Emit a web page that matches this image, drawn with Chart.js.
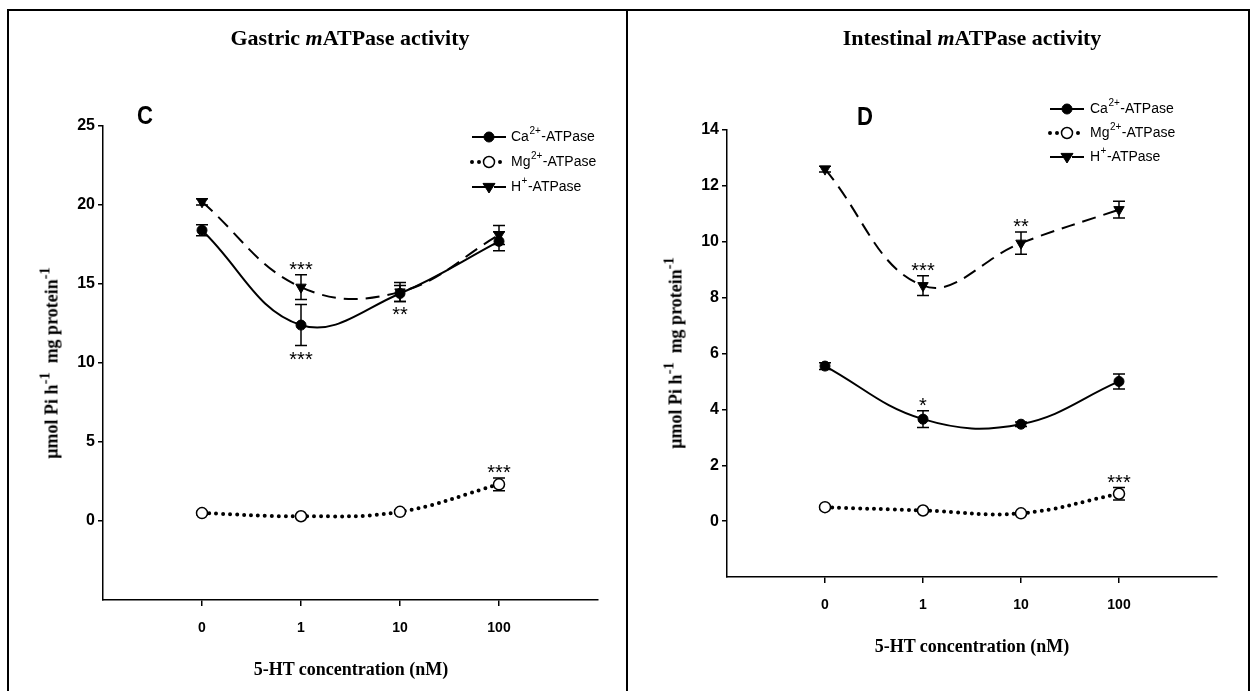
<!DOCTYPE html>
<html>
<head>
<meta charset="utf-8">
<script src="https://cdn.jsdelivr.net/npm/chart.js@4.4.0/dist/chart.umd.min.js"></script>
<style>
  body { margin: 0; width: 1254px; height: 691px; position: relative; overflow: hidden; background: #fff; }
  canvas { position: absolute; top: 0; }
  .line { position: absolute; background: #000; z-index: 2; }
  .txt { position: absolute; transform: translate(-50%, -50%); white-space: nowrap; color: #000; }
  .title { font: bold 22px "Liberation Serif", "Times New Roman", serif; }
  .letter { font: bold 26px "Liberation Sans", Arial, sans-serif; transform: translate(-50%, -50%) scaleX(0.85); }
  .xlab { font: bold 18px "Liberation Serif", "Times New Roman", serif; }
  .ylab { font: bold 18px "Liberation Serif", "Times New Roman", serif; transform: translate(-50%, -50%) rotate(-90deg); }
  sup { font-size: 80%; line-height: 0; vertical-align: 0.55em; }
</style>
</head>
<body>

<div class="line" style="left:7px;top:9px;width:1243px;height:2px"></div>
<div class="line" style="left:7px;top:9px;width:2px;height:682px"></div>
<div class="line" style="left:626px;top:9px;width:2px;height:682px"></div>
<div class="line" style="left:1248px;top:9px;width:2px;height:682px"></div>

<canvas id="gastric" width="625" height="691" style="left:0"></canvas>
<canvas id="intestinal" width="627" height="691" style="left:627px"></canvas>

<div class="txt title" style="left:350px;top:38px">Gastric <i>m</i>ATPase activity</div>
<div class="txt title" style="left:972px;top:38px">Intestinal <i>m</i>ATPase activity</div>
<div class="txt letter" style="left:145px;top:115px">C</div>
<div class="txt letter" style="left:865px;top:116px">D</div>
<div class="txt ylab" style="left:52px;top:363px">µmol Pi h<sup>-1</sup> &nbsp;mg protein<sup>-1</sup></div>
<div class="txt ylab" style="left:676px;top:353px">µmol Pi h<sup>-1</sup> &nbsp;mg protein<sup>-1</sup></div>
<div class="txt xlab" style="left:351px;top:669px">5-HT concentration (nM)</div>
<div class="txt xlab" style="left:972px;top:646px">5-HT concentration (nM)</div>

<script>
// 5-HT doses (categories on the x axis)
const doses = ['0', '1', '10', '100'];

// ion names and charges for the three ATPases
const ions = ['Ca', 'Mg', 'H'];
const charges = ['2+', '2+', '+'];

// gastric (C)
const gastricCa = [18.4, 12.4, 14.4, 17.7];
const gastricCaErr = [0.35, 1.3, 0.5, 0.6];
const gastricMg = [0.5, 0.3, 0.58, 2.32];
const gastricMgErr = [0.1, 0.1, 0.1, 0.4];
const gastricH = [20.2, 14.8, 14.5, 18.1];
const gastricHErr = [0.2, 0.78, 0.6, 0.6];
const gastricTicks = [0, 5, 10, 15, 20, 25];

// intestinal (D)
const intestCa = [5.55, 3.65, 3.47, 5.0];
const intestCaErr = [0.12, 0.3, 0.08, 0.27];
const intestMg = [0.5, 0.38, 0.28, 0.98];
const intestMgErr = [0.05, 0.05, 0.05, 0.22];
const intestH = [12.6, 8.43, 9.95, 11.15];
const intestHErr = [0.1, 0.35, 0.4, 0.3];
const intestTicks = [0, 2, 4, 6, 8, 10, 12, 14];

// significance marks: series index, dose index, text, side of the error bar
const gastricStars = [
  { s: 2, i: 1, text: '***', side: 'above' },
  { s: 0, i: 1, text: '***', side: 'below' },
  { s: 0, i: 2, text: '**', side: 'below' },
  { s: 1, i: 3, text: '***', side: 'above' }
];
const intestStars = [
  { s: 2, i: 1, text: '***', side: 'above' },
  { s: 2, i: 2, text: '**', side: 'above' },
  { s: 0, i: 1, text: '*', side: 'above' },
  { s: 1, i: 3, text: '***', side: 'above' }
];

function drawMarker(ctx, ds, x, y) {
  ctx.save();
  ctx.setLineDash([]);
  ctx.fillStyle = ds.pointBackgroundColor;
  ctx.strokeStyle = '#000';
  ctx.lineWidth = ds.pointBorderWidth || 1;
  const r = ds.pointRadius;
  ctx.beginPath();
  if (ds.pointStyle === 'triangle') {
    ctx.moveTo(x - r, y - r * 0.6);
    ctx.lineTo(x + r, y - r * 0.6);
    ctx.lineTo(x, y + r * 1.0);
    ctx.closePath();
  } else {
    ctx.arc(x, y, r, 0, Math.PI * 2);
  }
  ctx.fill();
  ctx.stroke();
  ctx.restore();
}

const errorBars = {
  id: 'errorBars',
  beforeDatasetsDraw(chart) {
    const ctx = chart.ctx, ys = chart.scales.y, xs = chart.scales.x;
    ctx.save();
    ctx.strokeStyle = '#000';
    ctx.lineWidth = 1.5;
    chart.data.datasets.forEach(ds => {
      ds.data.forEach((p, i) => {
        const e = ds.errors[i];
        const x = xs.getPixelForValue(p.x);
        const y1 = ys.getPixelForValue(p.y + e), y2 = ys.getPixelForValue(p.y - e);
        ctx.beginPath();
        ctx.moveTo(x, y1); ctx.lineTo(x, y2);
        ctx.moveTo(x - 6, y1); ctx.lineTo(x + 6, y1);
        ctx.moveTo(x - 6, y2); ctx.lineTo(x + 6, y2);
        ctx.stroke();
      });
    });
    ctx.restore();
  },
  afterDatasetsDraw(chart, args, opts) {
    const ctx = chart.ctx, ys = chart.scales.y, xs = chart.scales.x;
    ctx.save();
    ctx.fillStyle = '#000';
    ctx.font = '20px "Liberation Sans", Arial, sans-serif';
    ctx.textAlign = 'center';
    ctx.textBaseline = 'alphabetic';
    (opts.stars || []).forEach(st => {
      const ds = chart.data.datasets[st.s];
      const p = ds.data[st.i], e = ds.errors[st.i];
      const x = xs.getPixelForValue(p.x);
      const y = st.side === 'above'
        ? ys.getPixelForValue(p.y + e) + 1
        : ys.getPixelForValue(p.y - e) + 20;
      ctx.fillText(st.text, x, y);
    });
    ctx.restore();
  }
};

const lineLegend = {
  id: 'lineLegend',
  afterDraw(chart, args, opts) {
    const ctx = chart.ctx;
    chart.data.datasets.forEach((ds, k) => {
      const y = opts.rows[k], cx = opts.x;
      ctx.save();
      ctx.strokeStyle = '#000';
      ctx.lineWidth = ds.borderWidth;
      ctx.lineCap = ds.borderCapStyle || 'butt';
      ctx.setLineDash(ds.borderDash || []);
      ctx.beginPath();
      ctx.moveTo(cx - 17, y); ctx.lineTo(cx + 17, y);
      ctx.stroke();
      ctx.restore();
      drawMarker(ctx, ds, cx, y);
      ctx.save();
      ctx.fillStyle = '#000';
      ctx.textBaseline = 'middle';
      let tx = opts.textX;
      ctx.font = '14px "Liberation Sans", Arial, sans-serif';
      ctx.fillText(ions[k], tx, y);
      tx += ctx.measureText(ions[k]).width + 0.5;
      ctx.font = '10px "Liberation Sans", Arial, sans-serif';
      ctx.fillText(charges[k], tx, y - 6);
      tx += ctx.measureText(charges[k]).width + 0.5;
      ctx.font = '14px "Liberation Sans", Arial, sans-serif';
      ctx.fillText('-ATPase', tx, y);
      ctx.restore();
    });
  }
};

function series(vals, errs, k) {
  const base = {
    label: ions[k] + charges[k] + '-ATPase',
    data: vals.map((v, i) => ({ x: i, y: v })),
    errors: errs,
    borderColor: '#000',
    pointBorderColor: '#000',
    tension: 0.4,
    fill: false
  };
  if (k === 0) return Object.assign(base, {
    borderWidth: 2, pointStyle: 'circle', pointRadius: 5,
    pointBackgroundColor: '#000', pointBorderWidth: 1
  });
  if (k === 1) return Object.assign(base, {
    borderWidth: 4, borderDash: [0, 7], borderCapStyle: 'round',
    pointStyle: 'circle', pointRadius: 5.5, pointBackgroundColor: '#fff', pointBorderWidth: 1.5
  });
  return Object.assign(base, {
    borderWidth: 2, borderDash: [14, 8], pointStyle: 'triangle', pointRotation: 180,
    pointRadius: 6, pointBackgroundColor: '#000', pointBorderWidth: 1
  });
}

function makeChart(id, sets, yMin, yMax, yTicks, stars, lay, legendPos) {
  new Chart(document.getElementById(id), {
    type: 'line',
    data: { datasets: sets },
    plugins: [errorBars, lineLegend],
    options: {
      responsive: false,
      animation: false,
      layout: { padding: { left: 0, top: lay.top, right: lay.right, bottom: 0 } },
      plugins: {
        legend: { display: false },
        tooltip: { enabled: false },
        errorBars: { stars: stars },
        lineLegend: legendPos
      },
      scales: {
        x: {
          type: 'linear', min: -1, max: 4,
          afterBuildTicks: s => { s.ticks = doses.map((d, i) => ({ value: i })); },
          afterFit: s => { s.height = lay.xh; },
          ticks: {
            callback: v => doses[v], color: '#000', padding: 14, maxRotation: 0, autoSkip: false,
            font: { family: '"Liberation Sans", Arial, sans-serif', size: 14, weight: 'bold' }
          },
          grid: { drawOnChartArea: false, drawTicks: true, tickLength: 6, color: '#000', lineWidth: 1.5 },
          border: { color: '#000', width: 1.5 }
        },
        y: {
          min: yMin, max: yMax,
          afterBuildTicks: s => { s.ticks = yTicks.map(v => ({ value: v })); },
          afterFit: s => { s.width = lay.yw; },
          ticks: {
            color: '#000', padding: 3,
            font: { family: '"Liberation Sans", Arial, sans-serif', size: 16, weight: 'bold' }
          },
          grid: { drawOnChartArea: false, drawTicks: true, tickLength: 5, color: '#000', lineWidth: 1.5 },
          border: { color: '#000', width: 1.5 }
        }
      }
    }
  });
}

makeChart('gastric',
  [series(gastricCa, gastricCaErr, 0), series(gastricMg, gastricMgErr, 1), series(gastricH, gastricHErr, 2)],
  -5, 25, gastricTicks, gastricStars,
  { top: 126, right: 27, xh: 91, yw: 103 },
  { x: 489, textX: 511, rows: [137, 162, 187] });

makeChart('intestinal',
  [series(intestCa, intestCaErr, 0), series(intestMg, intestMgErr, 1), series(intestH, intestHErr, 2)],
  -2, 14, intestTicks, intestStars,
  { top: 130, right: 37, xh: 114, yw: 100 },
  { x: 440, textX: 463, rows: [109, 133, 157] });
</script>
</body>
</html>
